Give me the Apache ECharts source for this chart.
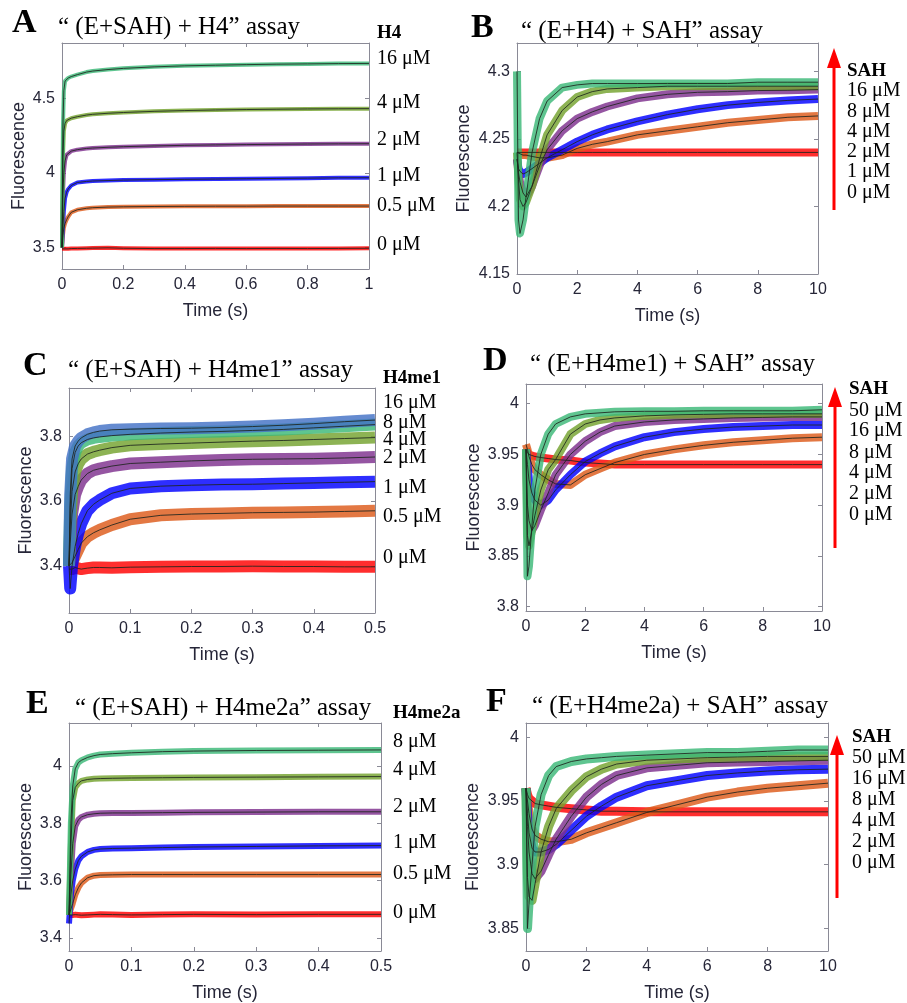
<!DOCTYPE html>
<html><head><meta charset="utf-8">
<script src="https://cdn.jsdelivr.net/npm/echarts@6/dist/echarts.min.js"></script>
<style>html,body{margin:0;padding:0;background:#fff}#c{width:907px;height:1003px}</style>
</head><body><div id="c"></div>
<script>
// ===== Panel A: "(E+SAH) + H4" =====
const timeA = [0, 0.003, 0.006, 0.01, 0.015, 0.02, 0.03, 0.05, 0.08, 0.1, 0.15, 0.2, 0.3, 0.4, 0.5, 0.6, 0.7, 0.8, 0.9, 1.0];
const A_0   = [3.49, 3.49, 3.492, 3.49, 3.493, 3.49, 3.492, 3.493, 3.494, 3.495, 3.497, 3.494, 3.492, 3.492, 3.493, 3.492, 3.493, 3.492, 3.493, 3.494];
const A_05  = [3.5, 3.58, 3.63, 3.66, 3.685, 3.705, 3.735, 3.752, 3.762, 3.766, 3.77, 3.772, 3.774, 3.775, 3.776, 3.776, 3.777, 3.777, 3.777, 3.777];
const A_1   = [3.5, 3.62, 3.74, 3.83, 3.87, 3.89, 3.915, 3.935, 3.942, 3.945, 3.948, 3.951, 3.954, 3.956, 3.958, 3.96, 3.962, 3.964, 3.966, 3.967];
const A_2   = [3.5, 3.85, 4.0, 4.08, 4.12, 4.133, 4.145, 4.155, 4.163, 4.166, 4.171, 4.175, 4.18, 4.184, 4.187, 4.189, 4.191, 4.193, 4.194, 4.195];
const A_4   = [3.5, 4.1, 4.28, 4.33, 4.35, 4.358, 4.366, 4.376, 4.387, 4.392, 4.399, 4.404, 4.412, 4.417, 4.421, 4.424, 4.426, 4.428, 4.429, 4.43];
const A_16  = [3.5, 4.3, 4.55, 4.615, 4.628, 4.635, 4.645, 4.658, 4.675, 4.682, 4.692, 4.70, 4.71, 4.717, 4.721, 4.725, 4.728, 4.73, 4.732, 4.733];
const A_yTicks = [3.5, 4, 4.5];
const A_xTicks = [0, 0.2, 0.4, 0.6, 0.8, 1];
const A_labels = ['16 μM', '4 μM', '2 μM', '1 μM', '0.5 μM', '0 μM'];

// ===== Panel B: "(E+H4) + SAH" =====
const timeB = [0, 0.05, 0.1, 0.2, 0.3, 0.5, 0.75, 1, 1.5, 2, 2.5, 3, 4, 5, 6, 7, 8, 9, 10];
const B_0  = [4.24, 4.24, 4.24, 4.24, 4.24, 4.24, 4.24, 4.24, 4.24, 4.24, 4.24, 4.24, 4.24, 4.24, 4.24, 4.24, 4.24, 4.24, 4.24];
const B_1  = [4.24, 4.24, 4.239, 4.238, 4.238, 4.237, 4.236, 4.236, 4.238, 4.243, 4.246, 4.248, 4.253, 4.256, 4.259, 4.262, 4.264, 4.266, 4.267];
const B_2  = [4.235, 4.228, 4.226, 4.224, 4.225, 4.228, 4.232, 4.236, 4.242, 4.248, 4.253, 4.257, 4.263, 4.268, 4.272, 4.275, 4.277, 4.2785, 4.2795];
const B_4  = [4.235, 4.225, 4.218, 4.21, 4.207, 4.215, 4.23, 4.242, 4.256, 4.265, 4.27, 4.274, 4.28, 4.283, 4.2845, 4.285, 4.2858, 4.286, 4.2865];
const B_8  = [4.24, 4.22, 4.205, 4.2, 4.203, 4.215, 4.235, 4.253, 4.271, 4.281, 4.285, 4.287, 4.288, 4.289, 4.289, 4.289, 4.289, 4.289, 4.289];
const B_16 = [4.30, 4.19, 4.18, 4.19, 4.207, 4.24, 4.265, 4.278, 4.288, 4.29, 4.291, 4.291, 4.291, 4.291, 4.291, 4.291, 4.292, 4.292, 4.292];
const B_yTicks = [4.15, 4.2, 4.25, 4.3];
const B_xTicks = [0, 2, 4, 6, 8, 10];
const B_labels = ['16 μM', '8 μM', '4 μM', '2 μM', '1 μM', '0 μM'];

// ===== Panel C: "(E+SAH) + H4me1" =====
const timeC = [0, 0.002, 0.005, 0.01, 0.015, 0.02, 0.03, 0.04, 0.05, 0.07, 0.1, 0.15, 0.2, 0.25, 0.3, 0.35, 0.4, 0.45, 0.5];
const C_0   = [3.39, 3.385, 3.39, 3.395, 3.392, 3.39, 3.393, 3.395, 3.395, 3.394, 3.396, 3.397, 3.398, 3.398, 3.399, 3.398, 3.398, 3.397, 3.397];
const C_05  = [3.4, 3.4, 3.41, 3.43, 3.45, 3.47, 3.49, 3.502, 3.511, 3.526, 3.544, 3.556, 3.56, 3.562, 3.564, 3.565, 3.566, 3.568, 3.57];
const C_1   = [3.4, 3.33, 3.4, 3.46, 3.5, 3.53, 3.57, 3.59, 3.603, 3.624, 3.639, 3.646, 3.649, 3.651, 3.652, 3.654, 3.656, 3.658, 3.66];
const C_2   = [3.4, 3.47, 3.56, 3.62, 3.645, 3.665, 3.685, 3.695, 3.70, 3.708, 3.716, 3.72, 3.724, 3.727, 3.729, 3.73, 3.731, 3.733, 3.736];
const C_4   = [3.4, 3.52, 3.63, 3.69, 3.715, 3.73, 3.745, 3.752, 3.757, 3.765, 3.772, 3.776, 3.779, 3.782, 3.785, 3.787, 3.79, 3.793, 3.796];
const C_8   = [3.4, 3.58, 3.7, 3.75, 3.77, 3.78, 3.79, 3.795, 3.798, 3.802, 3.806, 3.81, 3.813, 3.815, 3.818, 3.821, 3.826, 3.831, 3.836];
const C_16  = [3.4, 3.62, 3.73, 3.77, 3.785, 3.795, 3.806, 3.812, 3.816, 3.82, 3.822, 3.824, 3.825, 3.827, 3.83, 3.834, 3.839, 3.845, 3.85];
const C_yTicks = [3.4, 3.6, 3.8];
const C_xTicks = [0, 0.1, 0.2, 0.3, 0.4, 0.5];
const C_labels = ['16 μM', '8 μM', '4 μM', '2 μM', '1 μM', '0.5 μM', '0 μM'];

// ===== Panel D: "(E+H4me1) + SAH" =====
const timeD = [0, 0.05, 0.1, 0.2, 0.3, 0.5, 0.75, 1, 1.5, 2, 2.5, 3, 4, 5, 6, 7, 8, 9, 10];
const D_0  = [3.955, 3.952, 3.95, 3.949, 3.948, 3.947, 3.946, 3.945, 3.944, 3.942, 3.941, 3.94, 3.94, 3.94, 3.94, 3.94, 3.94, 3.94, 3.94];
const D_2  = [3.96, 3.955, 3.948, 3.94, 3.935, 3.93, 3.925, 3.921, 3.92, 3.93, 3.936, 3.942, 3.95, 3.955, 3.959, 3.962, 3.964, 3.966, 3.967];
const D_4  = [3.955, 3.94, 3.925, 3.912, 3.905, 3.9, 3.905, 3.915, 3.93, 3.943, 3.951, 3.958, 3.967, 3.972, 3.975, 3.977, 3.978, 3.979, 3.979];
const D_8  = [3.955, 3.9, 3.885, 3.875, 3.88, 3.895, 3.912, 3.93, 3.95, 3.963, 3.972, 3.978, 3.982, 3.984, 3.985, 3.986, 3.9865, 3.987, 3.987];
const D_16 = [3.955, 3.87, 3.86, 3.875, 3.89, 3.915, 3.935, 3.945, 3.97, 3.98, 3.984, 3.986, 3.988, 3.989, 3.9895, 3.99, 3.99, 3.99, 3.99];
const D_50 = [3.955, 3.83, 3.84, 3.88, 3.915, 3.95, 3.97, 3.98, 3.987, 3.99, 3.991, 3.992, 3.9925, 3.9925, 3.993, 3.993, 3.993, 3.993, 3.994];
const D_yTicks = [3.8, 3.85, 3.9, 3.95, 4];
const D_xTicks = [0, 2, 4, 6, 8, 10];
const D_labels = ['50 μM', '16 μM', '8 μM', '4 μM', '2 μM', '0 μM'];

// ===== Panel E: "(E+SAH) + H4me2a" =====
const timeE = [0, 0.003, 0.006, 0.01, 0.015, 0.02, 0.03, 0.04, 0.05, 0.07, 0.1, 0.15, 0.2, 0.3, 0.4, 0.5];
const E_0  = [3.48, 3.479, 3.48, 3.481, 3.48, 3.479, 3.48, 3.481, 3.482, 3.481, 3.48, 3.481, 3.482, 3.481, 3.482, 3.482];
const E_05 = [3.48, 3.5, 3.52, 3.55, 3.575, 3.592, 3.61, 3.617, 3.619, 3.62, 3.621, 3.621, 3.621, 3.621, 3.621, 3.621];
const E_1  = [3.45, 3.55, 3.6, 3.64, 3.67, 3.685, 3.7, 3.707, 3.71, 3.712, 3.713, 3.715, 3.717, 3.719, 3.721, 3.722];
const E_2  = [3.48, 3.62, 3.73, 3.79, 3.812, 3.822, 3.83, 3.833, 3.835, 3.836, 3.836, 3.837, 3.838, 3.839, 3.84, 3.84];
const E_4  = [3.48, 3.72, 3.88, 3.925, 3.94, 3.948, 3.953, 3.955, 3.956, 3.957, 3.958, 3.959, 3.96, 3.961, 3.962, 3.963];
const E_8  = [3.48, 3.8, 3.93, 3.99, 4.012, 4.02, 4.03, 4.036, 4.04, 4.043, 4.046, 4.05, 4.052, 4.054, 4.055, 4.056];
const E_yTicks = [3.4, 3.6, 3.8, 4];
const E_xTicks = [0, 0.1, 0.2, 0.3, 0.4, 0.5];
const E_labels = ['8 μM', '4 μM', '2 μM', '1 μM', '0.5 μM', '0 μM'];

// ===== Panel F: "(E+H4me2a) + SAH" =====
const timeF = [0, 0.05, 0.1, 0.2, 0.3, 0.5, 0.75, 1, 1.5, 2, 2.5, 3, 4, 5, 6, 7, 8, 9, 10];
const F_0  = [3.96, 3.955, 3.952, 3.95, 3.948, 3.947, 3.946, 3.945, 3.944, 3.943, 3.942, 3.942, 3.9415, 3.9415, 3.9415, 3.9415, 3.9415, 3.9415, 3.9415];
const F_2  = [3.96, 3.95, 3.94, 3.928, 3.923, 3.92, 3.918, 3.918, 3.92, 3.925, 3.929, 3.933, 3.941, 3.947, 3.953, 3.957, 3.96, 3.962, 3.964];
const F_4  = [3.96, 3.94, 3.925, 3.913, 3.91, 3.91, 3.912, 3.916, 3.927, 3.938, 3.946, 3.953, 3.962, 3.966, 3.97, 3.972, 3.9735, 3.9745, 3.975];
const F_8  = [3.96, 3.93, 3.91, 3.893, 3.889, 3.895, 3.908, 3.92, 3.938, 3.953, 3.963, 3.97, 3.976, 3.978, 3.98, 3.9805, 3.981, 3.9815, 3.982];
const F_16 = [3.96, 3.89, 3.875, 3.872, 3.885, 3.91, 3.93, 3.944, 3.958, 3.969, 3.975, 3.979, 3.982, 3.983, 3.984, 3.9845, 3.985, 3.985, 3.985];
const F_50 = [3.96, 3.85, 3.87, 3.9, 3.93, 3.955, 3.97, 3.977, 3.981, 3.983, 3.984, 3.985, 3.986, 3.987, 3.988, 3.988, 3.989, 3.99, 3.99];
const F_yTicks = [3.85, 3.9, 3.95, 4];
const F_xTicks = [0, 2, 4, 6, 8, 10];
const F_labels = ['50 μM', '16 μM', '8 μM', '4 μM', '2 μM', '0 μM'];

// ===== styling =====
const RED = '#ff0000', ORANGE = '#dd5a1a', BLUE = '#0000ff', PURPLE = '#7e2f8e',
      OLIVE = '#74a22e', GREEN = '#3cb878', STEEL = '#4372c6';
const SERIF = '"Liberation Serif", "Times New Roman", serif';
const SANS = '"Liberation Sans", Arial, sans-serif';
const AX = '#8a8a96', TXT = '#262638';

const panels = [
  { letter: 'A', title: '“ (E+SAH) + H4” assay', grid: {left: 62, top: 43, width: 307, height: 226},
    time: timeA, series: [[A_0, RED], [A_05, ORANGE], [A_1, BLUE], [A_2, PURPLE], [A_4, OLIVE], [A_16, GREEN]],
    band: 4, ymin: 3.355, ymax: 4.87, yt: A_yTicks, xmax: 1, xt: A_xTicks, yGap: 34,
    letterPos: [12, 23], titlePos: [58, 27] },
  { letter: 'B', title: '“ (E+H4) + SAH” assay', grid: {left: 517, top: 43, width: 301, height: 231},
    time: timeB, series: [[B_0, RED], [B_1, ORANGE], [B_2, BLUE], [B_4, PURPLE], [B_8, OLIVE], [B_16, GREEN]],
    band: 8, ymin: 4.15, ymax: 4.321, yt: B_yTicks, xmax: 10, xt: B_xTicks, yGap: 44,
    letterPos: [471, 28], titlePos: [521, 31] },
  { letter: 'C', title: '“ (E+SAH) + H4me1” assay', grid: {left: 69, top: 388, width: 306, height: 225},
    time: timeC, series: [[C_0, RED], [C_05, ORANGE], [C_1, BLUE], [C_2, PURPLE], [C_4, OLIVE], [C_8, GREEN], [C_16, STEEL]],
    band: 12, ymin: 3.2545, ymax: 3.949, yt: C_yTicks, xmax: 0.5, xt: C_xTicks, yGap: 34,
    letterPos: [23, 366], titlePos: [68, 370] },
  { letter: 'D', title: '“ (E+H4me1) + SAH” assay', grid: {left: 526, top: 384, width: 296, height: 227},
    time: timeD, series: [[D_0, RED], [D_2, ORANGE], [D_4, BLUE], [D_8, PURPLE], [D_16, OLIVE], [D_50, GREEN]],
    band: 8, ymin: 3.7958, ymax: 4.0194, yt: D_yTicks, xmax: 10, xt: D_xTicks, yGap: 43,
    letterPos: [483, 361], titlePos: [530, 364] },
  { letter: 'E', title: '“ (E+SAH) + H4me2a” assay', grid: {left: 69, top: 723, width: 312, height: 230},
    time: timeE, series: [[E_0, RED], [E_05, ORANGE], [E_1, BLUE], [E_2, PURPLE], [E_4, OLIVE], [E_8, GREEN]],
    band: 6, ymin: 3.354, ymax: 4.150, yt: E_yTicks, xmax: 0.5, xt: E_xTicks, yGap: 34,
    letterPos: [26, 704], titlePos: [75, 708] },
  { letter: 'F', title: '“ (E+H4me2a) + SAH” assay', grid: {left: 526, top: 723, width: 302, height: 230},
    time: timeF, series: [[F_0, RED], [F_2, ORANGE], [F_4, BLUE], [F_8, PURPLE], [F_16, OLIVE], [F_50, GREEN]],
    band: 9, ymin: 3.8323, ymax: 4.0112, yt: F_yTicks, xmax: 10, xt: F_xTicks, yGap: 44,
    letterPos: [486, 702], titlePos: [532, 706] }
];

// concentration labels at the right of each panel
const sideLabels = [
  { x: 377, header: 'H4', headerY: 33, ys: [59, 103, 140, 176, 206, 245], texts: A_labels },
  { x: 847, header: 'SAH', headerY: 71, ys: [91, 112, 132, 152, 172, 193], texts: B_labels, arrow: [834, 48, 210] },
  { x: 383, header: 'H4me1', headerY: 378, ys: [403, 423, 440, 458, 488, 517, 558], texts: C_labels },
  { x: 849, header: 'SAH', headerY: 389, ys: [411, 431, 453, 473, 494, 515], texts: D_labels, arrow: [835, 387, 548] },
  { x: 393, header: 'H4me2a', headerY: 713, ys: [742, 770, 807, 843, 874, 913], texts: E_labels },
  { x: 852, header: 'SAH', headerY: 737, ys: [758, 779, 800, 821, 842, 863], texts: F_labels, arrow: [837, 735, 898] }
];

const fmt = v => String(parseFloat(Number(v).toFixed(4)));
const grids = [], xAxes = [], yAxes = [], series = [], graphics = [];

panels.forEach((p, i) => {
  grids.push(Object.assign({containLabel: false}, p.grid));
  const tick = {show: true, inside: true, length: 4, lineStyle: {color: AX}};
  const line = {show: true, onZero: false, lineStyle: {color: AX, width: 1}};
  xAxes.push({type: 'value', gridIndex: i, position: 'bottom', min: 0, max: p.xmax,
    axisLine: line, splitLine: {show: false},
    axisTick: Object.assign({customValues: p.xt}, tick),
    axisLabel: {customValues: p.xt, formatter: fmt, color: TXT, fontFamily: SANS, fontSize: 16, margin: 8},
    name: 'Time (s)', nameLocation: 'middle', nameGap: 33,
    nameTextStyle: {color: TXT, fontFamily: SANS, fontSize: 18}});
  xAxes.push({type: 'value', gridIndex: i, position: 'top', min: 0, max: p.xmax,
    axisLine: line, splitLine: {show: false},
    axisTick: Object.assign({customValues: p.xt}, tick), axisLabel: {show: false}});
  yAxes.push({type: 'value', gridIndex: i, position: 'left', min: p.ymin, max: p.ymax,
    axisLine: line, splitLine: {show: false},
    axisTick: Object.assign({customValues: p.yt}, tick),
    axisLabel: {customValues: p.yt, formatter: fmt, color: TXT, fontFamily: SANS, fontSize: 16, margin: 7},
    name: 'Fluorescence', nameLocation: 'middle', nameGap: p.yGap, nameRotate: 90,
    nameTextStyle: {color: TXT, fontFamily: SANS, fontSize: 18}});
  yAxes.push({type: 'value', gridIndex: i, position: 'right', min: p.ymin, max: p.ymax,
    axisLine: line, splitLine: {show: false},
    axisTick: Object.assign({customValues: p.yt}, tick), axisLabel: {show: false}});

  // observed traces (noisy bands)
  p.series.forEach(([vals, col]) => {
    series.push({type: 'line', xAxisIndex: 2 * i, yAxisIndex: 2 * i, showSymbol: false, silent: true,
      data: p.time.map((t, k) => [t, vals[k]]),
      lineStyle: {color: col, width: p.band, opacity: 0.82, cap: 'butt', join: 'round'}, z: 2});
  });
  // fitted curves
  p.series.forEach(([vals]) => {
    series.push({type: 'line', xAxisIndex: 2 * i, yAxisIndex: 2 * i, showSymbol: false, silent: true,
      data: p.time.map((t, k) => [t, vals[k]]),
      lineStyle: {color: '#1d241d', width: 1, opacity: 0.85}, z: 3});
  });

  graphics.push({type: 'text', x: p.letterPos[0], y: p.letterPos[1],
    style: {text: p.letter, font: 'bold 34px ' + SERIF, fill: '#000', verticalAlign: 'middle'}});
  graphics.push({type: 'text', x: p.titlePos[0], y: p.titlePos[1],
    style: {text: p.title, font: '25px ' + SERIF, fill: '#000', verticalAlign: 'middle'}});
});

sideLabels.forEach(s => {
  graphics.push({type: 'text', x: s.x, y: s.headerY,
    style: {text: s.header, font: 'bold 19px ' + SERIF, fill: '#000', verticalAlign: 'middle'}});
  s.texts.forEach((t, k) => graphics.push({type: 'text', x: s.x, y: s.ys[k],
    style: {text: t, font: '20px ' + SERIF, fill: '#000', verticalAlign: 'middle'}}));
  if (s.arrow) {
    const [ax, top, bot] = s.arrow;
    graphics.push({type: 'line', shape: {x1: ax, y1: top + 18, x2: ax, y2: bot},
      style: {stroke: RED, lineWidth: 3}});
    graphics.push({type: 'polygon', shape: {points: [[ax, top], [ax - 7, top + 20], [ax + 7, top + 20]]},
      style: {fill: RED}});
  }
});

const chart = echarts.init(document.getElementById('c'), null, {renderer: 'canvas'});
chart.setOption({
  animation: false,
  backgroundColor: '#fff',
  grid: grids, xAxis: xAxes, yAxis: yAxes, series: series, graphic: graphics
});
</script></body></html>
